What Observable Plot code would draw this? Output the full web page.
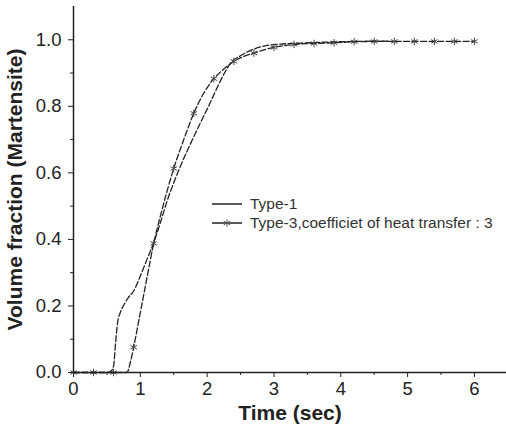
<!DOCTYPE html>
<html>
<head>
<meta charset="utf-8">
<script src="https://cdn.jsdelivr.net/npm/d3@7"></script>
<script src="https://cdn.jsdelivr.net/npm/@observablehq/plot@0.6"></script>
<style>
  html, body { margin: 0; padding: 0; background: #fff; }
  #wrap { position: relative; width: 506px; height: 433px; }
  #legend { position: absolute; left: 212px; top: 194px; font-family: "Liberation Sans", Arial, sans-serif; font-size: 15.5px; color: #333; }
  .row { display: flex; align-items: center; height: 19px; }
  .row svg { margin-right: 8px; }
</style>
</head>
<body>
<div id="wrap"></div>
<script>
// Type-1 (solid curve)
const type1X = [0, 0.5, 0.56, 0.6, 0.63, 0.66, 0.7, 0.76, 0.82, 0.9, 1.0, 1.1, 1.2, 1.3, 1.4, 1.5, 1.6, 1.78, 2.02, 2.26, 2.35, 2.5, 2.7, 2.9, 3.1, 3.4, 3.8, 4.2, 4.7];
const type1Y = [0, 0, 0.004, 0.02, 0.09, 0.15, 0.18, 0.205, 0.225, 0.245, 0.29, 0.34, 0.39, 0.45, 0.515, 0.57, 0.62, 0.70, 0.80, 0.90, 0.93, 0.952, 0.972, 0.983, 0.987, 0.99, 0.993, 0.995, 0.996];
// Type-3, coefficient of heat transfer 3 (curve with asterisk markers)
const type3X = [0, 0.3, 0.6, 0.8, 0.85, 0.9, 1.0, 1.1, 1.2, 1.3, 1.4, 1.5, 1.65, 1.8, 1.95, 2.1, 2.25, 2.4, 2.55, 2.7, 2.85, 3.0, 3.3, 3.6, 3.9, 4.2, 4.5, 4.8, 5.1, 5.4, 5.7, 6.0];
const type3Y = [0, 0, 0, 0, 0.03, 0.076, 0.18, 0.285, 0.388, 0.47, 0.545, 0.613, 0.70, 0.779, 0.84, 0.883, 0.912, 0.935, 0.95, 0.96, 0.97, 0.977, 0.986, 0.989, 0.991, 0.994, 0.995, 0.995, 0.995, 0.995, 0.995, 0.995];
const xTicks = [0, 1, 2, 3, 4, 5, 6];
const xMinor = [0.5, 1.5, 2.5, 3.5, 4.5, 5.5];
const yTicks = [0, 0.2, 0.4, 0.6, 0.8, 1.0];
const yMinor = [0.1, 0.3, 0.5, 0.7, 0.9];
const seriesNames = ["Type-1", "Type-3,coefficiet of heat transfer : 3"];

const t1 = type1X.map((x, i) => ({x, y: type1Y[i]}));
const t3 = type3X.map((x, i) => ({x, y: type3Y[i]}));
const t3markers = t3.filter(d => Math.abs(d.x / 0.3 - Math.round(d.x / 0.3)) < 1e-6);

const ink = "#222";
const chart = Plot.plot({
  width: 506,
  height: 433,
  marginLeft: 73,
  marginRight: 0,
  marginTop: 6,
  marginBottom: 61,
  style: {fontFamily: "'Liberation Sans', Arial, sans-serif", fontSize: "18.5px", color: ink, background: "#fff"},
  x: {domain: [0, 6.48]},
  y: {domain: [0, 1.1]},
  marks: [
    Plot.line(t1, {x: "x", y: "y", stroke: "#222", strokeWidth: 1.3, strokeDasharray: "6,2.5", curve: "monotone-x"}),
    Plot.line(t3, {x: "x", y: "y", stroke: "#222", strokeWidth: 1.3, strokeDasharray: "6,2.5", curve: "monotone-x"}),
    Plot.dot(t3markers, {x: "x", y: "y", symbol: "asterisk", r: 3.5, stroke: "#444", strokeWidth: 1}),
    Plot.ruleX([0], {stroke: ink, strokeWidth: 1.5}),
    Plot.ruleY([0], {stroke: ink, strokeWidth: 1.5}),
    Plot.axisX({ticks: xTicks, tickSize: 5, tickPadding: 4, label: null, tickFormat: d3.format("d"), stroke: ink}),
    Plot.axisX({ticks: xMinor, tickSize: 3, text: null, label: null, stroke: ink}),
    Plot.axisY({ticks: yTicks, tickSize: 5, tickPadding: 7, label: null, tickFormat: d3.format(".1f"), stroke: ink}),
    Plot.axisY({ticks: yMinor, tickSize: 3, text: null, label: null, stroke: ink}),
    Plot.text(["Time (sec)"], {frameAnchor: "bottom", textAnchor: "middle", dy: 47, fontSize: 21, fontWeight: "bold", fill: ink}),
    Plot.text(["Volume fraction (Martensite)"], {frameAnchor: "left", textAnchor: "middle", dx: -58, rotate: -90, fontSize: 21, fontWeight: "bold", fill: ink})
  ]
});
const wrap = document.getElementById("wrap");
wrap.appendChild(chart);

// Legend overlay
const legend = document.createElement("div");
legend.id = "legend";
seriesNames.forEach((name, i) => {
  const row = document.createElement("div");
  row.className = "row";
  const svg = d3.create("svg").attr("width", 30).attr("height", 12);
  svg.append("line").attr("x1", 0).attr("x2", 30).attr("y1", 6).attr("y2", 6).attr("stroke", "#222").attr("stroke-width", 1.5);
  if (i === 1) {
    const g = svg.append("g").attr("transform", "translate(15,6)").attr("stroke", "#555").attr("stroke-width", 1);
    g.append("path").attr("d", d3.symbol(d3.symbolAsterisk, 40)());
  }
  row.appendChild(svg.node());
  const span = document.createElement("span");
  span.textContent = name;
  row.appendChild(span);
  legend.appendChild(row);
});
wrap.appendChild(legend);
</script>
</body>
</html>
